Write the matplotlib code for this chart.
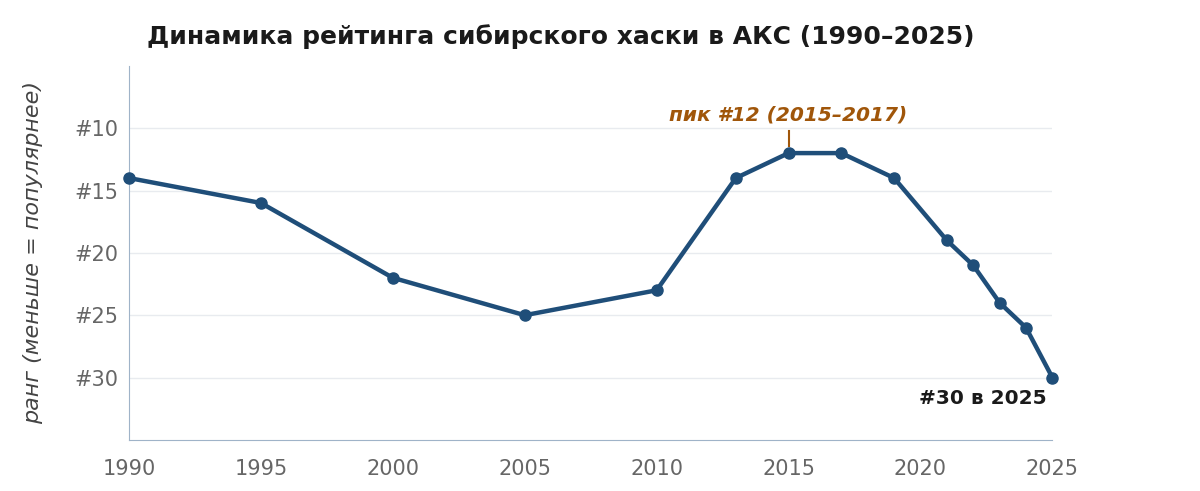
import matplotlib
matplotlib.use("Agg")
import matplotlib.pyplot as plt

years = [1990, 1995, 2000, 2005, 2010, 2013, 2015, 2017, 2019, 2021, 2022, 2023, 2024, 2025]
ranks = [14, 16, 22, 25, 23, 14, 12, 12, 14, 19, 21, 24, 26, 30]
yticks = [10, 15, 20, 25, 30]
xticks = [1990, 1995, 2000, 2005, 2010, 2015, 2020, 2025]

fig = plt.figure(figsize=(12, 4.91), dpi=100)
ax = fig.add_axes([0.1075, 0.104, 0.7695, 0.762])
line_c = "#1f4e79"
ax.plot(years, ranks, color=line_c, lw=3.2, marker="o", ms=8, zorder=3, clip_on=False)
ax.set_xlim(1990, 2025)
ax.set_ylim(35, 5)
ax.set_yticks(yticks)
ax.set_yticklabels([f"#{v}" for v in yticks])
ax.set_xticks(xticks)
ax.grid(axis="y", color="#e8ebef", lw=1)
ax.set_axisbelow(True)
for s in ["top", "right"]:
    ax.spines[s].set_visible(False)
for s in ["left", "bottom"]:
    ax.spines[s].set_color("#9fb3c8")
ax.tick_params(length=0, labelsize=15, colors="#666666", pad=8)
ax.tick_params(axis="x", pad=14)
ax.set_ylabel("ранг (меньше = популярнее)", fontsize=16, style="italic", color="#444444", labelpad=22)
fig.text(147/1200, 1-37/491, "Динамика рейтинга сибирского хаски в АКС (1990–2025)",
         fontsize=18, fontweight="bold", color="#1a1a1a", va="center", ha="left")
ax.plot([2015, 2015], [11.4, 10.2], color="#a0560a", lw=1.5)
ax.text(2015, 9.7, "пик #12 (2015–2017)", color="#a0560a", fontsize=14.5,
        fontweight="bold", style="italic", ha="center", va="bottom")
ax.text(2024.8, 31.7, "#30 в 2025", color="#1a1a1a", fontsize=14.5,
        fontweight="bold", ha="right", va="center")
fig.savefig("out.png", dpi=100)
